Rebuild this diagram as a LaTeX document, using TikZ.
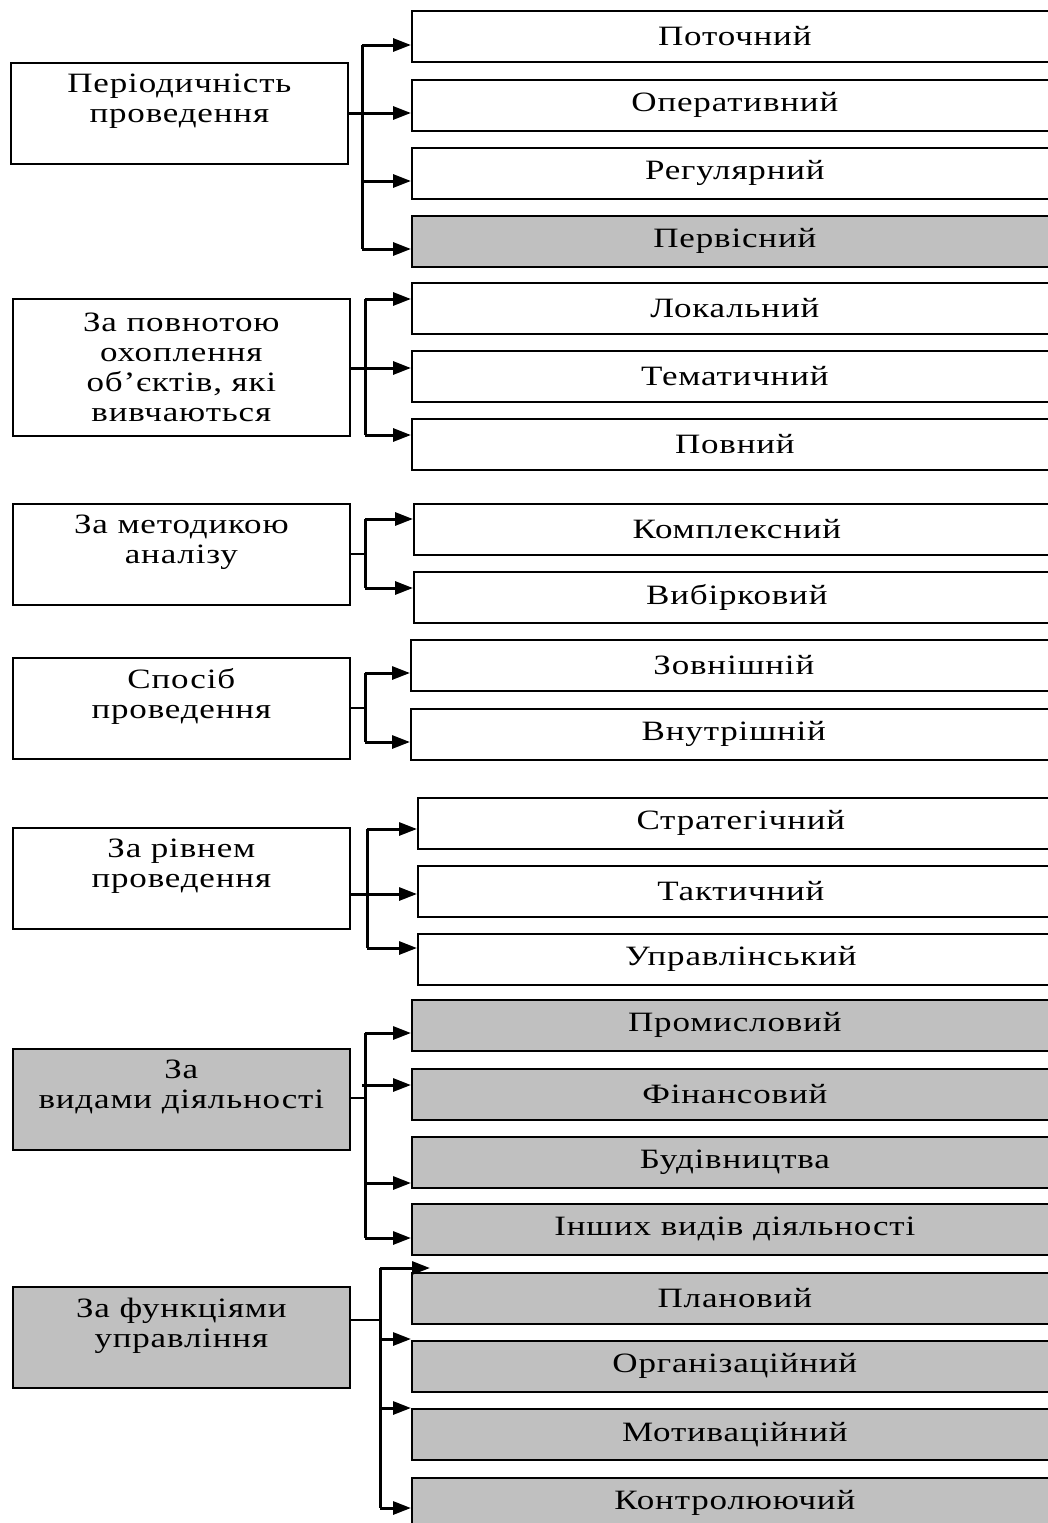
\documentclass[tikz,border=0pt]{standalone}
\usepackage{fontspec}
\setmainfont{Liberation Serif}[FakeStretch=1.25,LetterSpace=3]
\usetikzlibrary{arrows.meta}
\definecolor{boxgray}{HTML}{C0C0C0}
\tikzset{
  rbox/.style={draw=black, line width=1.7pt, minimum width=646pt, minimum height=51pt,
    anchor=north west, inner sep=0pt},
  lbox/.style={draw=black, line width=1.7pt, minimum width=337pt, minimum height=101pt,
    anchor=north west, align=center, inner sep=0pt},
  shaded/.style={fill=boxgray},
  raised/.style={text depth=30pt},
  arr/.style={line width=3pt, -{Triangle[length=18pt,width=13pt]}},
  trunk/.style={line width=3pt},
  thinconn/.style={line width=1.4pt},
  thickconn/.style={line width=3pt},
}
\begin{document}
\begin{tikzpicture}[x=1pt,y=-1pt,font=\fontsize{28pt}{30pt}\selectfont]
\clip (0,0) rectangle (1048,1523);
\fill[white] (0,0) rectangle (1048,1523);

% ---------- Group 1
\node[lbox,raised] (l1) at (10,62) {Періодичність\\проведення};
\node[rbox] (b11) at (411,10) {Поточний};
\node[rbox] (b12) at (411,79) {Оперативний};
\node[rbox] (b13) at (411,147) {Регулярний};
\node[rbox,shaded] (b14) at (411,215) {Первісний};
\coordinate (j11) at (362,45);
\coordinate (j12) at (362,113);
\coordinate (j13) at (362,181);
\coordinate (j14) at (362,249);
\draw[trunk] (j11) -- (j14);
\draw[thickconn] (l1.east |- j12) -- (j12);
\draw[arr] (j11) -- (j11 -| b11.west);
\draw[arr] (j12) -- (j12 -| b12.west);
\draw[arr] (j13) -- (j13 -| b13.west);
\draw[arr] (j14) -- (j14 -| b14.west);

% ---------- Group 2
\node[lbox,minimum height=137pt] (l2) at (12,298) {За повнотою\\охоплення\\об’єктів, які\\вивчаються};
\node[rbox] (b21) at (411,282) {Локальний};
\node[rbox] (b22) at (411,350) {Тематичний};
\node[rbox] (b23) at (411,418) {Повний};
\coordinate (j21) at (365,299);
\coordinate (j22) at (365,368);
\coordinate (j23) at (365,435);
\draw[trunk] (j21) -- (j23);
\draw[thickconn] (l2.east |- j22) -- (j22);
\draw[arr] (j21) -- (j21 -| b21.west);
\draw[arr] (j22) -- (j22 -| b22.west);
\draw[arr] (j23) -- (j23 -| b23.west);

% ---------- Group 3
\node[lbox,raised] (l3) at (12,503) {За методикою\\аналізу};
\node[rbox] (b31) at (413,503) {Комплексний};
\node[rbox] (b32) at (413,571) {Вибірковий};
\coordinate (j31) at (365,519);
\coordinate (j3m) at (365,554);
\coordinate (j32) at (365,588);
\draw[trunk] (j31) -- (j32);
\draw[thinconn] (l3.east |- j3m) -- (j3m);
\draw[arr] (j31) -- (j31 -| b31.west);
\draw[arr] (j32) -- (j32 -| b32.west);

% ---------- Group 4
\node[lbox,raised] (l4) at (12,657) {Спосіб\\проведення};
\node[rbox] (b41) at (410,639) {Зовнішній};
\node[rbox] (b42) at (410,708) {Внутрішній};
\coordinate (j41) at (365,673);
\coordinate (j4m) at (365,708);
\coordinate (j42) at (365,742);
\draw[trunk] (j41) -- (j42);
\draw[thinconn] (l4.east |- j4m) -- (j4m);
\draw[arr] (j41) -- (j41 -| b41.west);
\draw[arr] (j42) -- (j42 -| b42.west);

% ---------- Group 5
\node[lbox,raised] (l5) at (12,827) {За рівнем\\проведення};
\node[rbox] (b51) at (417,797) {Стратегічний};
\node[rbox] (b52) at (417,865) {Тактичний};
\node[rbox] (b53) at (417,933) {Управлінський};
\coordinate (j51) at (367,829);
\coordinate (j52) at (367,894);
\coordinate (j53) at (367,948);
\draw[trunk] (j51) -- (j53);
\draw[thickconn] (l5.east |- j52) -- (j52);
\draw[arr] (j51) -- (j51 -| b51.west);
\draw[arr] (j52) -- (j52 -| b52.west);
\draw[arr] (j53) -- (j53 -| b53.west);

% ---------- Group 6
\node[lbox,raised,shaded] (l6) at (12,1048) {За\\видами діяльності};
\node[rbox,shaded] (b61) at (411,999) {Промисловий};
\node[rbox,shaded] (b62) at (411,1068) {Фінансовий};
\node[rbox,shaded] (b63) at (411,1136) {Будівництва};
\node[rbox,shaded] (b64) at (411,1203) {Інших видів діяльності};
\coordinate (j61) at (365,1033);
\coordinate (j62) at (362,1085);
\coordinate (j6m) at (365,1098);
\coordinate (j63) at (365,1183);
\coordinate (j64) at (365,1238);
\draw[trunk] (j61) -- (j64);
\draw[thinconn] (l6.east |- j6m) -- (j6m);
\draw[arr] (j61) -- (j61 -| b61.west);
\draw[arr] (j62) -- (j62 -| b62.west);
\draw[arr] (j63) -- (j63 -| b63.west);
\draw[arr] (j64) -- (j64 -| b64.west);

% ---------- Group 7
\node[lbox,raised,shaded] (l7) at (12,1286) {За функціями\\управління};
\node[rbox,shaded] (b71) at (411,1272) {Плановий};
\node[rbox,shaded] (b72) at (411,1340) {Організаційний};
\node[rbox,shaded] (b73) at (411,1408) {Мотиваційний};
\node[rbox,shaded] (b74) at (411,1477) {Контролюючий};
\coordinate (j71) at (380,1268);
\coordinate (e71) at (430,1268);
\coordinate (j7m) at (380,1320);
\coordinate (j72) at (380,1339);
\coordinate (j73) at (380,1408);
\coordinate (j74) at (380,1508);
\draw[trunk] (j71) -- (j74);
\draw[thinconn] (l7.east |- j7m) -- (j7m);
\draw[arr] (j71) -- (e71);
\draw[arr] (j72) -- (j72 -| b72.west);
\draw[arr] (j73) -- (j73 -| b73.west);
\draw[arr] (j74) -- (j74 -| b74.west);
\end{tikzpicture}
\end{document}
